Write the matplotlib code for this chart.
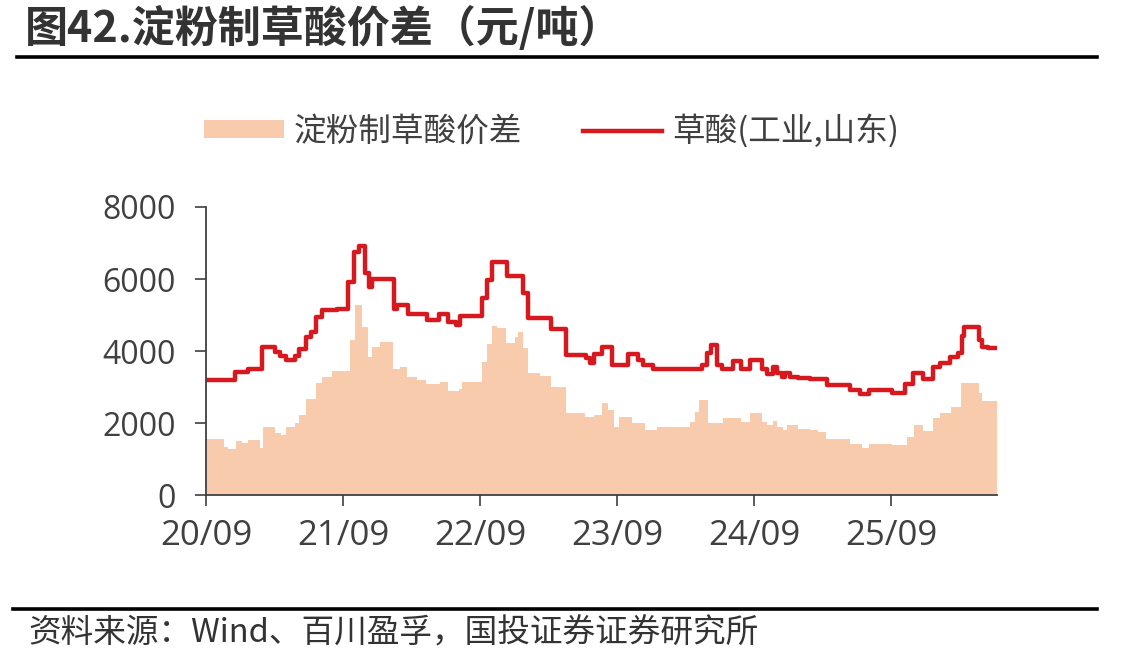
import numpy as np
import pandas as pd
import matplotlib
matplotlib.use('Agg')
import matplotlib.pyplot as plt
from matplotlib.lines import Line2D
from matplotlib.patches import Patch

plt.rcParams['font.family'] = ['Open Sans', 'Noto Sans CJK SC', 'DejaVu Sans']

# 草酸(工业,山东) price, step change points (元/吨)
acid_dates = ['2020-09-01', '2020-11-17', '2020-12-21', '2021-01-28', '2021-03-05', '2021-03-18',
              '2021-04-01', '2021-04-25', '2021-05-08', '2021-05-26', '2021-06-09', '2021-06-22',
              '2021-07-08', '2021-08-15', '2021-09-14', '2021-09-30', '2021-10-15', '2021-10-29',
              '2021-11-09', '2021-11-17', '2022-01-15', '2022-01-23', '2022-02-21', '2022-04-14',
              '2022-05-16', '2022-06-07', '2022-06-28', '2022-07-11', '2022-09-06', '2022-09-19',
              '2022-10-02', '2022-11-12', '2022-12-24', '2023-01-07', '2023-03-10', '2023-04-19',
              '2023-06-12', '2023-06-22', '2023-07-03', '2023-07-24', '2023-08-20', '2023-09-30',
              '2023-10-26', '2023-11-09', '2023-12-05', '2024-04-14', '2024-04-27', '2024-05-10',
              '2024-05-26', '2024-06-07', '2024-07-06', '2024-07-29', '2024-08-20', '2024-09-22',
              '2024-10-05', '2024-10-21', '2024-11-01', '2024-11-14', '2024-11-22', '2024-12-05',
              '2024-12-26', '2025-01-28', '2025-03-15', '2025-05-13', '2025-06-09', '2025-07-05',
              '2025-09-04', '2025-10-08', '2025-10-29', '2025-11-25', '2025-12-21', '2026-01-09',
              '2026-02-06', '2026-02-27', '2026-03-08', '2026-03-15', '2026-04-22', '2026-04-30',
              '2026-05-16', '2026-06-10']
acid_vals = [3200, 3420, 3490, 4120, 3980, 3860,
             3750, 3860, 4050, 4400, 4540, 4950,
             5140, 5170, 5930, 6760, 6920, 6160,
             5790, 5990, 5160, 5280, 5020, 4860,
             5030, 4810, 4720, 4970, 5460, 5970,
             6460, 6080, 5620, 4910, 4610, 3890,
             3800, 3660, 3920, 4120, 3610, 3920,
             3750, 3610, 3490, 3610, 3940, 4170,
             3610, 3490, 3730, 3490, 3750, 3490,
             3360, 3550, 3380, 3290, 3400, 3290,
             3240, 3210, 3060, 2920, 2810, 2920,
             2840, 3080, 3400, 3210, 3550, 3680,
             3840, 3950, 4420, 4660, 4310, 4120,
             4070, 4070]

# 淀粉制草酸价差, step change points (元/吨)
spread_dates = ['2020-09-01', '2020-10-18', '2020-10-29', '2020-11-19', '2020-12-05', '2020-12-21',
                '2021-01-22', '2021-01-31', '2021-03-05', '2021-03-20', '2021-04-03', '2021-04-25',
                '2021-05-08', '2021-05-26', '2021-06-22', '2021-07-08', '2021-08-04', '2021-09-19',
                '2021-10-02', '2021-10-23', '2021-11-06', '2021-11-17', '2021-12-08', '2022-01-12',
                '2022-01-31', '2022-02-18', '2022-03-18', '2022-04-11', '2022-05-18', '2022-06-09',
                '2022-07-08', '2022-07-16', '2022-09-06', '2022-09-19', '2022-10-02', '2022-10-16',
                '2022-11-09', '2022-12-03', '2022-12-11', '2022-12-24', '2023-01-07', '2023-02-08',
                '2023-03-10', '2023-04-19', '2023-06-07', '2023-07-03', '2023-07-24', '2023-08-07',
                '2023-08-23', '2023-09-07', '2023-10-10', '2023-11-14', '2023-12-16', '2024-03-13',
                '2024-03-26', '2024-04-06', '2024-05-02', '2024-06-09', '2024-07-29', '2024-08-20',
                '2024-09-22', '2024-10-05', '2024-10-21', '2024-11-01', '2024-11-16', '2024-11-27',
                '2024-12-26', '2025-01-28', '2025-02-18', '2025-03-12', '2025-05-13', '2025-06-14',
                '2025-07-05', '2025-09-04', '2025-10-13', '2025-11-01', '2025-11-25', '2025-12-21',
                '2026-01-09', '2026-02-08', '2026-03-05', '2026-04-22', '2026-04-30', '2026-06-10']
spread_vals = [1550, 1340, 1270, 1510, 1450, 1530,
               1300, 1900, 1730, 1670, 1900, 2010,
               2220, 2660, 3120, 3290, 3440, 4310,
               5280, 4680, 3840, 4120, 4260, 3490,
               3560, 3290, 3190, 3080, 3150, 2900,
               2940, 3150, 3700, 4200, 4690, 4630,
               4210, 4380, 4540, 4070, 3380, 3310,
               3010, 2270, 2180, 2220, 2550, 2360,
               1900, 2180, 1990, 1810, 1900, 2040,
               2310, 2640, 1990, 2130, 2040, 2270,
               2040, 1940, 2060, 1900, 1810, 1940,
               1820, 1810, 1760, 1550, 1410, 1300,
               1420, 1390, 1600, 1940, 1780, 2130,
               2270, 2450, 3120, 2820, 2620, 2620]

tick_dates = ['2020-09-01', '2021-09-01', '2022-09-01', '2023-09-01', '2024-09-01', '2025-09-01']
tick_labels = ['20/09', '21/09', '22/09', '23/09', '24/09', '25/09']

area_color = '#F7CBAC'
line_color = '#D7181F'
text_color = '#404040'
cjk = ['Noto Sans CJK SC', 'DejaVu Sans']

fig = plt.figure(figsize=(11.47, 6.63), dpi=100)
ax = fig.add_axes([206/1147, 1-495/663, (997-206)/1147, (495-207)/663])

ad = pd.to_datetime(acid_dates)
sd = pd.to_datetime(spread_dates)
ax.fill_between(sd, spread_vals, 0, step='post', color=area_color, lw=0)
ax.step(ad, acid_vals, where='post', color=line_color, lw=3.2)

ax.set_xlim(pd.Timestamp(acid_dates[0]), pd.Timestamp(acid_dates[-1]))
ax.set_ylim(0, 8000)
ax.set_yticks([0, 2000, 4000, 6000, 8000])
ax.set_xticks(pd.to_datetime(tick_dates))
ax.set_xticklabels(tick_labels)

for s in ['top', 'right']:
    ax.spines[s].set_visible(False)
for s in ['left', 'bottom']:
    ax.spines[s].set_color(text_color)
    ax.spines[s].set_linewidth(1.3)
ax.tick_params(axis='both', direction='out', length=8, width=1.2, color=text_color,
               labelcolor=text_color)
ax.tick_params(axis='y', pad=14, labelsize=23)
ax.tick_params(axis='x', pad=9, labelsize=25)

handles = [Patch(facecolor=area_color, edgecolor='none'),
           Line2D([0], [0], color=line_color, lw=3.2)]
leg = fig.legend(handles, ['淀粉制草酸价差', '草酸(工业,山东)'], loc='center left',
                 bbox_to_anchor=(204/1147, 1-131/663), ncol=2, frameon=False,
                 handlelength=2.45, handleheight=0.46, handletextpad=0.3,
                 columnspacing=1.85, borderpad=0, borderaxespad=0,
                 prop={'family': cjk, 'size': 23.5})
for t in leg.get_texts():
    t.set_color(text_color)

fig.text(25/1147, 1-28/663, '图42.淀粉制草酸价差（元/吨）', family=cjk, fontsize=31,
         fontweight='bold', color='#333333', va='center', ha='left')
fig.add_artist(Line2D([17/1147, 1097/1147], [1-57/663, 1-57/663], color='black', lw=2.6))
fig.add_artist(Line2D([13/1147, 1097/1147], [1-609/663, 1-609/663], color='black', lw=2.6))
fig.text(28/1147, 1-633/663, '资料来源：Wind、百川盈孚，国投证券证券研究所', family=cjk,
         fontsize=23.5, fontweight='light', color='#333333', va='center', ha='left')

fig.savefig('out.png', dpi=100)
